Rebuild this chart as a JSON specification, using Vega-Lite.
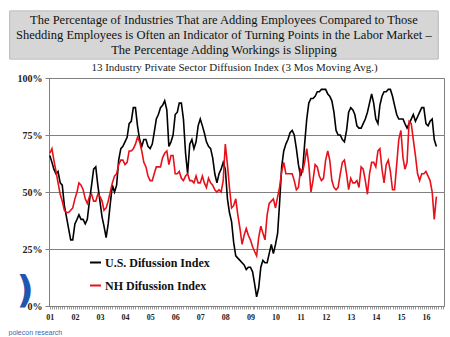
{
  "$schema": "https://vega.github.io/schema/vega-lite/v6.json",
  "background": "white",
  "padding": {"left": 7, "top": 10, "right": 0, "bottom": 0},
  "spacing": 1,
  "config": {"font": "Liberation Serif", "view": {"stroke": null}},
  "vconcat": [
    {
      "width": 393,
      "height": 48,
      "data": {"values": [
        {"line": 1, "text": "The Percentage of Industries That are Adding Employees Compared to Those"},
        {"line": 2, "text": "Shedding Employees is Often an Indicator of Turning Points in the Labor Market –"},
        {"line": 3, "text": "The Percentage Adding Workings is Slipping"}
      ]},
      "layer": [
        {
          "mark": {"type": "rect", "fill": "#8a8a8a", "xOffset": 3.5, "yOffset": 3.5},
          "encoding": {
            "x": {"datum": -0.1, "type": "quantitative", "scale": {"domain": [0, 1]}, "axis": null},
            "x2": {"datum": 0.99}
          }
        },
        {
          "mark": {"type": "rect", "fill": "#d6d6d6", "stroke": "#b0b0b0", "strokeWidth": 0.5},
          "encoding": {
            "x": {"datum": -0.1, "type": "quantitative"},
            "x2": {"datum": 0.99}
          }
        },
        {
          "mark": {"type": "text", "font": "Liberation Serif", "fontSize": 12.5, "color": "#111111", "align": "center", "baseline": "middle"},
          "encoding": {
            "x": {"datum": 0.445, "type": "quantitative"},
            "y": {"field": "line", "type": "ordinal", "axis": null, "scale": {"padding": 0.6}},
            "text": {"field": "text"}
          }
        }
      ]
    },
    {
      "width": 395,
      "height": 228,
      "view": {"stroke": "#808080", "strokeWidth": 1},
      "title": {"text": "13 Industry Private Sector Diffusion Index (3 Mos Moving Avg.)", "font": "Liberation Serif", "fontSize": 11, "fontWeight": "normal", "color": "#222222", "anchor": "middle", "dx": -12, "offset": 0},
      "data": {"values": [
        {"date":"2001-01-01","us":66,"nh":67},{"date":"2001-02-01","us":63,"nh":69},{"date":"2001-03-01","us":60,"nh":64},{"date":"2001-04-01","us":58,"nh":59},{"date":"2001-05-01","us":59,"nh":54},{"date":"2001-06-01","us":54,"nh":49},{"date":"2001-07-01","us":53,"nh":46},{"date":"2001-08-01","us":44,"nh":42},{"date":"2001-09-01","us":39,"nh":41},{"date":"2001-10-01","us":34,"nh":41},{"date":"2001-11-01","us":29,"nh":42},{"date":"2001-12-01","us":29,"nh":43},
        {"date":"2002-01-01","us":36,"nh":47},{"date":"2002-02-01","us":38,"nh":50},{"date":"2002-03-01","us":40,"nh":54},{"date":"2002-04-01","us":38,"nh":53},{"date":"2002-05-01","us":38,"nh":51},{"date":"2002-06-01","us":36,"nh":47},{"date":"2002-07-01","us":38,"nh":45},{"date":"2002-08-01","us":46,"nh":48},{"date":"2002-09-01","us":53,"nh":49},{"date":"2002-10-01","us":60,"nh":46},{"date":"2002-11-01","us":61,"nh":46},{"date":"2002-12-01","us":53,"nh":49},
        {"date":"2003-01-01","us":46,"nh":48},{"date":"2003-02-01","us":39,"nh":46},{"date":"2003-03-01","us":35,"nh":42},{"date":"2003-04-01","us":30,"nh":43},{"date":"2003-05-01","us":36,"nh":46},{"date":"2003-06-01","us":45,"nh":50},{"date":"2003-07-01","us":53,"nh":54},{"date":"2003-08-01","us":50,"nh":57},{"date":"2003-09-01","us":53,"nh":58},{"date":"2003-10-01","us":64,"nh":62},{"date":"2003-11-01","us":69,"nh":64},{"date":"2003-12-01","us":70,"nh":64},
        {"date":"2004-01-01","us":72,"nh":62},{"date":"2004-02-01","us":74,"nh":63},{"date":"2004-03-01","us":80,"nh":68},{"date":"2004-04-01","us":81,"nh":68},{"date":"2004-05-01","us":87,"nh":69},{"date":"2004-06-01","us":87,"nh":71},{"date":"2004-07-01","us":79,"nh":74},{"date":"2004-08-01","us":73,"nh":72},{"date":"2004-09-01","us":70,"nh":68},{"date":"2004-10-01","us":73,"nh":63},{"date":"2004-11-01","us":73,"nh":61},{"date":"2004-12-01","us":70,"nh":57},
        {"date":"2005-01-01","us":69,"nh":55},{"date":"2005-02-01","us":71,"nh":55},{"date":"2005-03-01","us":76,"nh":58},{"date":"2005-04-01","us":82,"nh":61},{"date":"2005-05-01","us":84,"nh":61},{"date":"2005-06-01","us":87,"nh":61},{"date":"2005-07-01","us":88,"nh":65},{"date":"2005-08-01","us":90,"nh":67},{"date":"2005-09-01","us":86,"nh":68},{"date":"2005-10-01","us":70,"nh":62},{"date":"2005-11-01","us":72,"nh":66},{"date":"2005-12-01","us":75,"nh":66},
        {"date":"2006-01-01","us":84,"nh":58},{"date":"2006-02-01","us":85,"nh":58},{"date":"2006-03-01","us":89,"nh":59},{"date":"2006-04-01","us":89,"nh":56},{"date":"2006-05-01","us":82,"nh":55},{"date":"2006-06-01","us":67,"nh":57},{"date":"2006-07-01","us":58,"nh":58},{"date":"2006-08-01","us":71,"nh":55},{"date":"2006-09-01","us":73,"nh":55},{"date":"2006-10-01","us":69,"nh":54},{"date":"2006-11-01","us":72,"nh":57},{"date":"2006-12-01","us":79,"nh":54},
        {"date":"2007-01-01","us":82,"nh":54},{"date":"2007-02-01","us":79,"nh":57},{"date":"2007-03-01","us":76,"nh":54},{"date":"2007-04-01","us":72,"nh":52},{"date":"2007-05-01","us":70,"nh":56},{"date":"2007-06-01","us":69,"nh":54},{"date":"2007-07-01","us":65,"nh":53},{"date":"2007-08-01","us":58,"nh":51},{"date":"2007-09-01","us":54,"nh":50},{"date":"2007-10-01","us":58,"nh":51},{"date":"2007-11-01","us":60,"nh":50},{"date":"2007-12-01","us":63,"nh":55},
        {"date":"2008-01-01","us":60,"nh":71},{"date":"2008-02-01","us":47,"nh":62},{"date":"2008-03-01","us":41,"nh":52},{"date":"2008-04-01","us":37,"nh":43},{"date":"2008-05-01","us":28,"nh":44},{"date":"2008-06-01","us":22,"nh":47},{"date":"2008-07-01","us":21,"nh":40},{"date":"2008-08-01","us":20,"nh":34},{"date":"2008-09-01","us":19,"nh":27},{"date":"2008-10-01","us":18,"nh":31},{"date":"2008-11-01","us":16,"nh":34},{"date":"2008-12-01","us":17,"nh":31},
        {"date":"2009-01-01","us":17,"nh":29},{"date":"2009-02-01","us":15,"nh":26},{"date":"2009-03-01","us":10,"nh":24},{"date":"2009-04-01","us":4,"nh":22},{"date":"2009-05-01","us":8,"nh":30},{"date":"2009-06-01","us":17,"nh":35},{"date":"2009-07-01","us":20,"nh":32},{"date":"2009-08-01","us":19,"nh":29},{"date":"2009-09-01","us":19,"nh":40},{"date":"2009-10-01","us":23,"nh":45},{"date":"2009-11-01","us":27,"nh":46},{"date":"2009-12-01","us":23,"nh":47},
        {"date":"2010-01-01","us":27,"nh":43},{"date":"2010-02-01","us":32,"nh":48},{"date":"2010-03-01","us":45,"nh":52},{"date":"2010-04-01","us":61,"nh":59},{"date":"2010-05-01","us":68,"nh":63},{"date":"2010-06-01","us":71,"nh":58},{"date":"2010-07-01","us":73,"nh":58},{"date":"2010-08-01","us":76,"nh":58},{"date":"2010-09-01","us":77,"nh":58},{"date":"2010-10-01","us":75,"nh":55},{"date":"2010-11-01","us":69,"nh":51},{"date":"2010-12-01","us":62,"nh":52},
        {"date":"2011-01-01","us":57,"nh":60},{"date":"2011-02-01","us":60,"nh":59},{"date":"2011-03-01","us":71,"nh":63},{"date":"2011-04-01","us":82,"nh":69},{"date":"2011-05-01","us":89,"nh":62},{"date":"2011-06-01","us":91,"nh":50},{"date":"2011-07-01","us":91,"nh":55},{"date":"2011-08-01","us":92,"nh":62},{"date":"2011-09-01","us":94,"nh":61},{"date":"2011-10-01","us":94,"nh":57},{"date":"2011-11-01","us":95,"nh":55},{"date":"2011-12-01","us":95,"nh":56},
        {"date":"2012-01-01","us":95,"nh":64},{"date":"2012-02-01","us":93,"nh":68},{"date":"2012-03-01","us":92,"nh":64},{"date":"2012-04-01","us":90,"nh":55},{"date":"2012-05-01","us":85,"nh":52},{"date":"2012-06-01","us":77,"nh":51},{"date":"2012-07-01","us":75,"nh":52},{"date":"2012-08-01","us":75,"nh":58},{"date":"2012-09-01","us":73,"nh":63},{"date":"2012-10-01","us":72,"nh":64},{"date":"2012-11-01","us":77,"nh":58},{"date":"2012-12-01","us":85,"nh":51},
        {"date":"2013-01-01","us":87,"nh":56},{"date":"2013-02-01","us":86,"nh":54},{"date":"2013-03-01","us":84,"nh":54},{"date":"2013-04-01","us":79,"nh":55},{"date":"2013-05-01","us":78,"nh":52},{"date":"2013-06-01","us":78,"nh":61},{"date":"2013-07-01","us":80,"nh":60},{"date":"2013-08-01","us":82,"nh":55},{"date":"2013-09-01","us":85,"nh":49},{"date":"2013-10-01","us":89,"nh":58},{"date":"2013-11-01","us":93,"nh":63},{"date":"2013-12-01","us":89,"nh":63},
        {"date":"2014-01-01","us":82,"nh":61},{"date":"2014-02-01","us":80,"nh":68},{"date":"2014-03-01","us":88,"nh":69},{"date":"2014-04-01","us":92,"nh":60},{"date":"2014-05-01","us":94,"nh":54},{"date":"2014-06-01","us":94,"nh":62},{"date":"2014-07-01","us":95,"nh":64},{"date":"2014-08-01","us":95,"nh":59},{"date":"2014-09-01","us":92,"nh":51},{"date":"2014-10-01","us":88,"nh":51},{"date":"2014-11-01","us":84,"nh":62},{"date":"2014-12-01","us":82,"nh":73},
        {"date":"2015-01-01","us":82,"nh":77},{"date":"2015-02-01","us":82,"nh":65},{"date":"2015-03-01","us":80,"nh":60},{"date":"2015-04-01","us":78,"nh":63},{"date":"2015-05-01","us":80,"nh":81},{"date":"2015-06-01","us":82,"nh":80},{"date":"2015-07-01","us":84,"nh":73},{"date":"2015-08-01","us":81,"nh":66},{"date":"2015-09-01","us":83,"nh":58},{"date":"2015-10-01","us":85,"nh":55},{"date":"2015-11-01","us":87,"nh":58},{"date":"2015-12-01","us":87,"nh":58},
        {"date":"2016-01-01","us":80,"nh":59},{"date":"2016-02-01","us":79,"nh":57},{"date":"2016-03-01","us":81,"nh":55},{"date":"2016-04-01","us":82,"nh":50},{"date":"2016-05-01","us":73,"nh":38},{"date":"2016-06-01","us":70,"nh":48}
      ]},
      "encoding": {
        "x": {
          "field": "date", "type": "temporal",
          "scale": {"type": "utc", "domain": [{"year": 2000, "month": 12, "date": 20, "utc": true}, {"year": 2016, "month": 9, "date": 20, "utc": true}]},
          "axis": {
            "tickCount": {"interval": "month", "step": 1},
            "labelExpr": "utcmonth(datum.value) == 0 ? utcFormat(datum.value, '%y') : ''",
            "labelOverlap": false, "labelFlush": false, "labelBound": false,
            "grid": false, "tickSize": 3, "tickColor": "#808080", "tickWidth": 0.8,
            "domainColor": "#808080",
            "labelFont": "Liberation Serif", "labelFontSize": 8, "labelFontWeight": "bold", "labelColor": "#222222", "labelPadding": 4,
            "title": "polecon research", "titleFont": "Liberation Sans", "titleFontSize": 7, "titleFontWeight": "normal", "titleColor": "#3a68b0",
            "titleAnchor": "start", "titleAlign": "left", "titleBaseline": "middle", "titleX": -41, "titleY": 26
          }
        },
        "color": {
          "scale": {"domain": ["U.S. Difussion Index", "NH Difussion Index"], "range": ["#000000", "#e8101a"]},
          "legend": {
            "orient": "none", "legendX": 40, "legendY": 245, "title": null, "padding": 0,
            "labelFont": "Liberation Serif", "labelFontSize": 12, "labelFontWeight": "bold", "labelColor": "#111111", "labelOffset": 3,
            "symbolType": "stroke", "symbolStrokeWidth": 2, "symbolSize": 120, "rowPadding": 10
          }
        }
      },
      "layer": [
        {
          "mark": {"type": "line", "strokeWidth": 1.6},
          "encoding": {
            "y": {"field": "us", "type": "quantitative", "scale": {"domain": [0, 100], "nice": false},
              "axis": {"values": [0, 25, 50, 75, 100], "labelExpr": "datum.value + '%'", "grid": true, "gridColor": "#808080", "gridWidth": 1, "domainColor": "#808080", "tickColor": "#808080", "tickSize": 4, "labelFont": "Liberation Serif", "labelFontSize": 10, "labelFontWeight": "bold", "labelColor": "#222222", "labelPadding": 3,
                "title": ")", "titleFont": "DejaVu Sans", "titleFontSize": 38, "titleFontWeight": "bold", "titleColor": "#1f56b0", "titleAngle": 0, "titleAlign": "left", "titleBaseline": "middle", "titleX": -33, "titleY": 212}},
            "color": {"datum": "U.S. Difussion Index"}
          }
        },
        {
          "mark": {"type": "line", "strokeWidth": 1.6},
          "encoding": {
            "y": {"field": "nh", "type": "quantitative"},
            "color": {"datum": "NH Difussion Index"}
          }
        }
      ]
    }
  ]
}
